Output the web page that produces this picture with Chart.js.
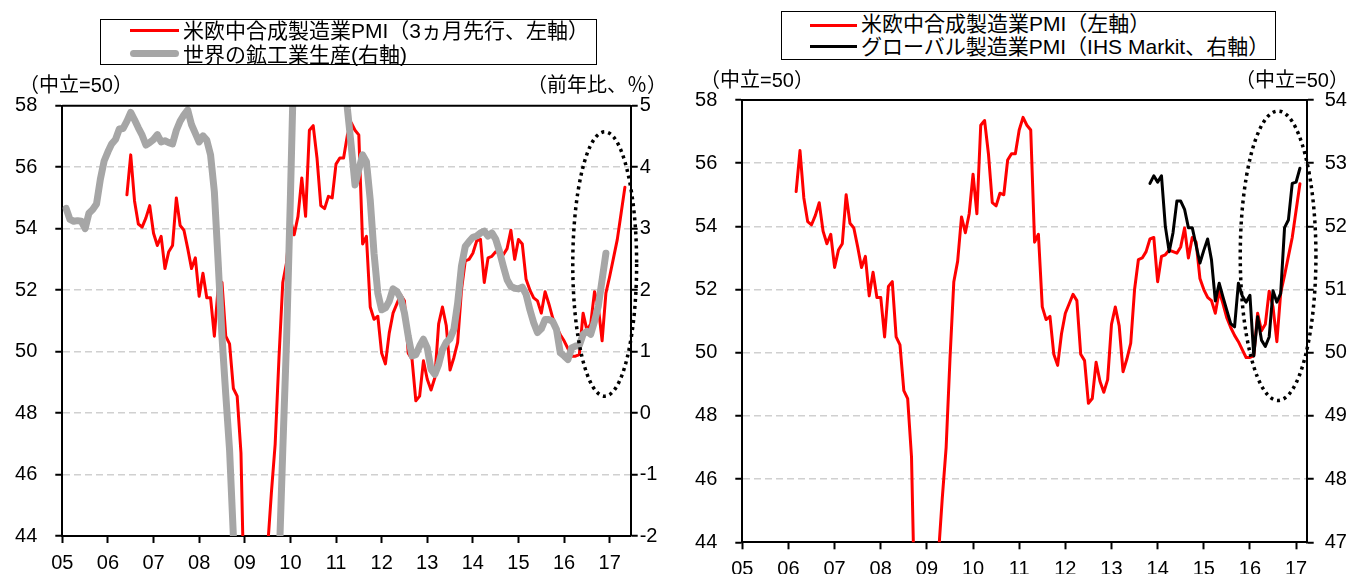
<!DOCTYPE html>
<html lang="ja">
<head>
<meta charset="utf-8">
<script src="https://cdn.jsdelivr.net/npm/chart.js@4.4.1/dist/chart.umd.min.js"></script>
<style>
    html, body { margin: 0; padding: 0; background: #fff; }
    body {
        position: relative; width: 1349px; height: 574px; overflow: hidden;
        font-family: "Liberation Sans", Arial, "Noto Sans CJK JP", sans-serif; color: #000;
    }
    canvas { position: absolute; top: 0; }
    .box { position: absolute; border: 1.5px solid #000; box-sizing: border-box; background: #fff; }
    .txt {
        position: absolute; font-size: 20px; line-height: 22px; white-space: nowrap;
        text-spacing-trim: space-all; font-feature-settings: "chws" 0, "halt" 0;
    }
    .lg { font-size: 21px; }
    .swatch { position: absolute; }
</style>
</head>
<body>
    <canvas id="left" width="675" height="574" style="left:0"></canvas>
    <canvas id="right" width="674" height="574" style="left:675px"></canvas>

    <div class="box" style="left:100px; top:19px; width:497px; height:46px"></div>
    <div class="swatch" style="left:130px; top:28.5px; width:49px; height:3px; background:#ff0000"></div>
    <div class="swatch" style="left:130px; top:50px; width:49px; height:7px; border-radius:3.5px; background:#a6a6a6"></div>
    <div class="txt lg" style="left:183px; top:19.5px">米欧中合成製造業PMI（3ヵ月先行、左軸）</div>
    <div class="txt lg" style="left:183px; top:44px">世界の鉱工業生産(右軸)</div>
    <div class="txt" style="left:19px; top:74px">（中立=50）</div>
    <div class="txt" style="right:682px; top:74px">（前年比、％）</div>

    <div class="box" style="left:781px; top:11px; width:495px; height:49px"></div>
    <div class="swatch" style="left:810px; top:23.5px; width:47px; height:3px; background:#ff0000"></div>
    <div class="swatch" style="left:810px; top:44.5px; width:47px; height:3px; background:#000"></div>
    <div class="txt lg" style="left:861px; top:13px">米欧中合成製造業PMI（左軸）</div>
    <div class="txt lg" style="left:861px; top:35.5px">グローバル製造業PMI（IHS Markit、右軸）</div>
    <div class="txt" style="left:700px; top:69px">（中立=50）</div>
    <div class="txt" style="right:0; top:69px">（中立=50）</div>

<script>
// 米欧中合成製造業PMI, monthly from 2006/3 to 2017/2
const pmiStart = [2006, 3];
const pmi = [
    55.1, 56.4, 54.9, 54.15, 54.05, 54.35, 54.75, 53.85, 53.45, 53.75,
    52.7, 53.25, 53.45, 55.0, 54.1, 53.95, 53.35, 52.7, 53.05, 51.8, 52.55, 51.75,
    51.75, 50.5, 52.1, 52.25, 50.5, 50.25, 48.8, 48.55, 46.7, 41.0, 37.5, 35.5,
    35.5, 37.0, 40.0, 43.6, 45.4, 47.0, 49.8, 52.25, 52.9, 54.3, 53.8, 54.4,
    55.65, 54.4, 57.2, 57.35, 56.3, 54.75, 54.65, 55.05, 55.0, 56.1, 56.3, 56.3,
    57.05, 57.45, 57.2, 57.05, 53.5, 53.75, 51.45, 51.05, 51.15, 49.95, 49.6, 50.6,
    51.25, 51.55, 51.85, 51.65, 49.95, 49.75, 48.4, 48.55, 49.7, 49.1, 48.75, 49.15,
    50.9, 51.45, 50.85, 49.4, 49.8, 50.3, 52.0, 52.95, 53.0, 53.2, 53.6, 53.65,
    52.25, 53.05, 53.1, 53.25, 53.2, 53.15, 53.35, 53.95, 53.0, 53.65, 53.5, 52.35,
    52.0, 51.75, 51.65, 51.25, 51.95, 51.55, 51.1, 50.8, 50.55, 50.35, 50.1, 49.85,
    49.85, 49.9, 51.25, 50.7, 50.9, 51.95, 51.45, 50.35, 51.9, 52.45, 53.05, 53.65,
    54.5, 55.35
];
// 世界の鉱工業生産 (前年比、%), monthly from 2005/2 to 2016/12
const ipStart = [2005, 2];
const worldIp = [
    3.33, 3.15, 3.12, 3.13, 3.12, 3.0, 3.25, 3.31, 3.4, 3.8, 4.1,
    4.25, 4.38, 4.45, 4.62, 4.63, 4.75, 4.89, 4.77, 4.64, 4.52, 4.36, 4.4,
    4.45, 4.53, 4.41, 4.43, 4.4, 4.38, 4.6, 4.75, 4.85, 4.93, 4.69, 4.55,
    4.41, 4.51, 4.44, 4.2, 3.6, 2.45, 1.25, 0.3, -0.6, -2.0, -5.5, -9.0,
    -12.5, -13.0, -12.0, -11.0, -10.0, -8.5, -7.0, -5.5, -4.2, -2.5, -0.6, 1.2,
    3.5, 6.0, 8.5, 10.0, 10.5, 10.0, 9.0, 8.0, 7.5, 7.0, 7.0, 6.8,
    6.5, 6.3, 5.8, 4.95, 4.35, 3.71, 3.96, 4.2, 4.09, 3.47, 2.6, 1.95,
    1.68, 1.71, 1.82, 2.02, 1.98, 1.87, 1.63, 1.25, 0.93, 0.95, 1.09, 1.2,
    1.06, 0.71, 0.63, 0.79, 1.03, 1.15, 1.21, 1.36, 1.79, 2.39, 2.71, 2.79,
    2.86, 2.88, 2.93, 2.96, 2.88, 2.93, 2.83, 2.63, 2.39, 2.17, 2.06, 2.03,
    2.02, 2.05, 1.93, 1.68, 1.47, 1.31, 1.37, 1.52, 1.52, 1.49, 1.36, 0.98,
    0.93, 0.87, 1.06, 1.09, 1.1, 1.28, 1.33, 1.28, 1.49, 1.74, 2.17, 2.6
];
// グローバル製造業PMI (IHS Markit), monthly from 2013/11 to 2017/2
const globalPmiStart = [2013, 11];
const globalPmi = [
    52.68, 52.8,
    52.7, 52.8, 52.0, 51.6, 51.9, 52.4, 52.4, 52.27, 51.98, 51.98, 51.7, 51.42,
    51.62, 51.8, 51.47, 50.82, 51.1, 50.88, 50.67, 50.46, 50.41, 51.1, 50.9, 50.8,
    50.91, 49.95, 50.57, 50.2, 50.1, 50.25, 50.98, 50.8, 50.94, 51.98, 52.1, 52.68,
    52.7, 52.92
];
const leadMonths = 3;
const yearLabels = [`05`, `06`, `07`, `08`, `09`, `10`, `11`, `12`, `13`, `14`, `15`, `16`, `17`];
const pmiTicks = [44, 58, 2];
const ipTicks = [-2, 5, 1];
const globalTicks = [47, 54, 1];

const toPoints = (start, values, shift = 0) =>
    values.map((v, i) => ({ x: start[0] + (start[1] - 1 + i + shift) / 12, y: v }));

const tickFont = { family: `Liberation Sans`, size: 20 };
const gridGray = `#d0d0d0`;

// top frame line and the dotted oval around the latest months
const framePlugin = {
    id: `frame`,
    afterDatasetsDraw(chart, args, opts) {
        const { ctx, chartArea, scales } = chart;
        ctx.save();
        ctx.strokeStyle = `#000`;
        ctx.lineWidth = 2;
        ctx.beginPath();
        ctx.moveTo(chartArea.left, chartArea.top);
        ctx.lineTo(chartArea.right, chartArea.top);
        ctx.stroke();
        if (opts.oval) {
            const o = opts.oval;
            const x1 = scales.x.getPixelForValue(o.xMin), x2 = scales.x.getPixelForValue(o.xMax);
            const y1 = scales.y.getPixelForValue(o.yMax), y2 = scales.y.getPixelForValue(o.yMin);
            ctx.beginPath();
            ctx.ellipse((x1 + x2) / 2, (y1 + y2) / 2, (x2 - x1) / 2, (y2 - y1) / 2, 0, 0, Math.PI * 2);
            ctx.setLineDash([3, 4]);
            ctx.lineWidth = 3.5;
            ctx.stroke();
        }
        ctx.restore();
    }
};
Chart.register(framePlugin);

function yAxis(range, position, width, padding, grid) {
    return {
        type: `linear`,
        position: position,
        min: range[0],
        max: range[1],
        afterFit: scale => { scale.width = width; },
        ticks: { stepSize: range[2], font: tickFont, color: `#000`, padding: padding },
        grid: {
            drawOnChartArea: grid,
            color: ctx => (ctx.tick && (ctx.tick.value === range[0] || ctx.tick.value === range[1])) ? `rgba(0,0,0,0)` : gridGray,
            lineWidth: 1.5,
            tickLength: 7,
            tickWidth: 2,
            tickColor: `#000`
        },
        border: { color: `#000`, width: 2, dash: [7, 4] }
    };
}

function xAxis(max, height) {
    return {
        type: `linear`,
        min: 2005,
        max: max,
        afterFit: scale => { scale.height = height; },
        ticks: {
            stepSize: 1,
            includeBounds: false,
            autoSkip: false,
            maxTicksLimit: 20,
            maxRotation: 0,
            font: tickFont,
            color: `#000`,
            padding: 8,
            callback: v => yearLabels[Math.round(v) - 2005]
        },
        grid: { drawOnChartArea: false, tickLength: 7, tickWidth: 2, tickColor: `#000` },
        border: { color: `#000`, width: 2 }
    };
}

function line(points, color, width, axis, order) {
    return {
        data: points,
        borderColor: color,
        borderWidth: width,
        pointRadius: 0,
        tension: 0,
        fill: false,
        borderJoinStyle: `round`,
        borderCapStyle: `round`,
        yAxisID: axis,
        order: order,
        clip: 0
    };
}

const common = {
    responsive: false,
    animation: false,
    parsing: false,
    events: [],
    plugins: { legend: { display: false }, tooltip: { enabled: false } }
};

new Chart(document.getElementById(`left`), {
    type: `line`,
    data: {
        datasets: [
            line(toPoints(pmiStart, pmi, leadMonths), `#ff0000`, 3, `y`, 1),
            line(toPoints(ipStart, worldIp), `#a6a6a6`, 7, `y2`, 0)
        ]
    },
    options: {
        ...common,
        layout: { padding: { top: 105.7, left: 0, right: 0, bottom: 0 } },
        scales: {
            x: xAxis(2017.46, 38),
            y: yAxis(pmiTicks, `left`, 62.3, 18, true),
            y2: yAxis(ipTicks, `right`, 44.3, 2, false)
        },
        plugins: {
            ...common.plugins,
            frame: { oval: { xMin: 2016.19, xMax: 2017.59, yMin: 48.55, yMax: 57.15 } }
        }
    }
});

new Chart(document.getElementById(`right`), {
    type: `line`,
    data: {
        datasets: [
            line(toPoints(pmiStart, pmi), `#ff0000`, 3, `y`, 1),
            line(toPoints(globalPmiStart, globalPmi), `#000000`, 3, `y2`, 0)
        ]
    },
    options: {
        ...common,
        layout: { padding: { top: 100, left: 0, right: 0, bottom: 0 } },
        scales: {
            x: xAxis(2017.23, 31.7),
            y: yAxis(pmiTicks, `left`, 67.3, 18, true),
            y2: yAxis(globalTicks, `right`, 42.3, 11, false)
        },
        plugins: {
            ...common.plugins,
            frame: { oval: { xMin: 2015.79, xMax: 2017.43, yMin: 48.49, yMax: 57.65 } }
        }
    }
});
</script>
</body>
</html>
